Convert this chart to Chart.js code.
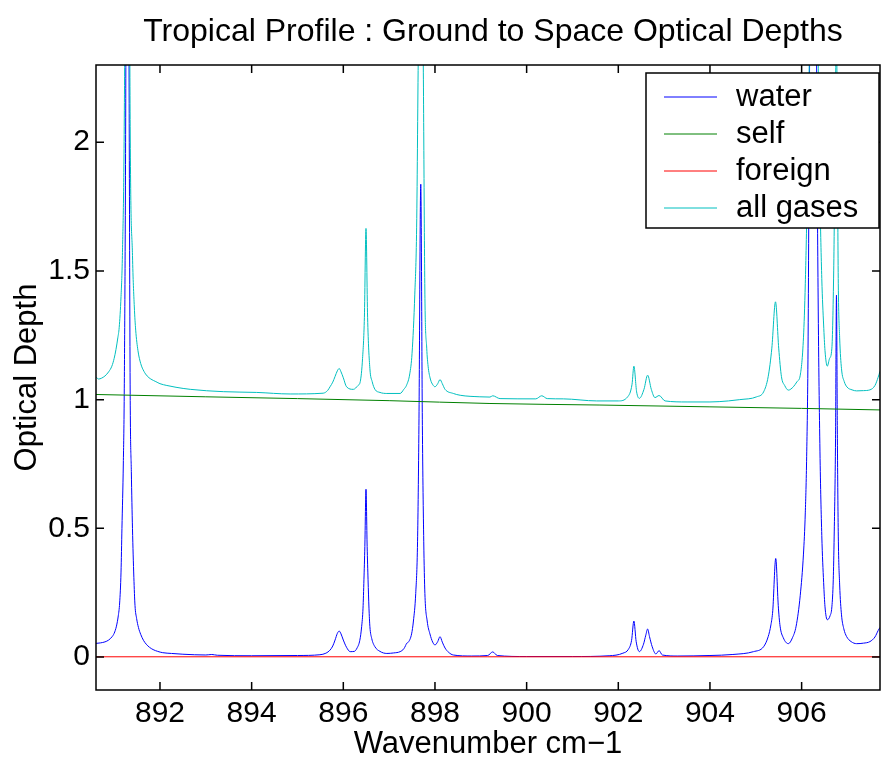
<!DOCTYPE html>
<html><head><meta charset="utf-8">
<script src="https://cdn.jsdelivr.net/npm/chart.js@4"></script>
<style>html,body{margin:0;padding:0;background:#fff;}canvas{display:block;}</style>
</head><body>
<canvas id="c" width="881" height="763"></canvas>
<script>
const chartTitle = 'Tropical Profile : Ground to Space Optical Depths';
const xAxisTitle = 'Wavenumber cm\u22121';
const yAxisTitle = 'Optical Depth';
const seriesNames = ['water', 'self', 'foreign', 'all gases'];
const xTickValues = [892, 894, 896, 898, 900, 902, 904, 906];
const yTickValues = [0, 0.5, 1, 1.5, 2];

const waterX = [890.60, 890.70, 890.80, 890.88, 890.95, 891.00, 891.05, 891.09, 891.12, 891.15, 891.17, 891.20, 891.22, 891.25, 891.29, 891.33, 891.35, 891.375, 891.40, 891.43, 891.455, 891.49, 891.53, 891.58, 891.64, 891.70, 891.77, 891.85, 891.95, 892.06, 892.25, 892.50, 893.00, 893.13, 893.25, 894.00, 895.00, 895.49, 895.62, 895.71, 895.77, 895.82, 895.87, 895.91, 895.95, 896.00, 896.07, 896.15, 896.24, 896.30, 896.36, 896.40, 896.43, 896.45, 896.47, 896.495, 896.52, 896.54, 896.56, 896.58, 896.62, 896.69, 896.80, 896.95, 897.10, 897.24, 897.32, 897.36, 897.38, 897.42, 897.49, 897.53, 897.58, 897.62, 897.65, 897.69, 897.725, 897.755, 897.78, 897.83, 897.89, 897.95, 898.00, 898.06, 898.11, 898.16, 898.22, 898.30, 898.40, 898.80, 899.15, 899.26, 899.36, 900.00, 901.00, 901.80, 902.10, 902.22, 902.29, 902.34, 902.39, 902.46, 902.55, 902.60, 902.64, 902.68, 902.74, 902.82, 902.89, 902.96, 903.30, 904.00, 904.50, 904.95, 905.17, 905.27, 905.33, 905.37, 905.435, 905.49, 905.53, 905.60, 905.71, 905.80, 905.88, 905.97, 906.04, 906.08, 906.11, 906.14, 906.17, 906.27, 906.33, 906.36, 906.40, 906.44, 906.48, 906.51, 906.56, 906.62, 906.66, 906.69, 906.71, 906.74, 906.76, 906.78, 906.80, 906.83, 906.87, 906.92, 906.98, 907.08, 907.20, 907.35, 907.49, 907.60, 907.67, 907.71];
const waterY = [0.053, 0.055, 0.059, 0.066, 0.078, 0.092, 0.120, 0.160, 0.210, 0.330, 0.500, 0.750, 1.020, 2.000, 4.500, 2.000, 1.020, 0.720, 0.500, 0.310, 0.200, 0.150, 0.115, 0.088, 0.065, 0.050, 0.038, 0.029, 0.022, 0.017, 0.014, 0.011, 0.008, 0.010, 0.007, 0.005, 0.006, 0.009, 0.015, 0.027, 0.043, 0.066, 0.092, 0.101, 0.090, 0.066, 0.038, 0.021, 0.022, 0.035, 0.065, 0.118, 0.190, 0.300, 0.430, 0.652, 0.430, 0.300, 0.190, 0.118, 0.072, 0.040, 0.022, 0.014, 0.016, 0.021, 0.032, 0.045, 0.053, 0.058, 0.090, 0.140, 0.247, 0.450, 0.900, 1.837, 0.900, 0.450, 0.247, 0.140, 0.090, 0.058, 0.047, 0.060, 0.079, 0.058, 0.035, 0.018, 0.008, 0.004, 0.006, 0.020, 0.006, 0.002, 0.002, 0.005, 0.015, 0.030, 0.065, 0.140, 0.060, 0.021, 0.050, 0.085, 0.109, 0.080, 0.040, 0.012, 0.025, 0.008, 0.004, 0.006, 0.010, 0.021, 0.040, 0.079, 0.125, 0.180, 0.383, 0.200, 0.120, 0.075, 0.052, 0.075, 0.120, 0.240, 0.400, 0.560, 0.780, 1.200, 2.200, 5.000, 2.200, 1.395, 0.800, 0.472, 0.290, 0.195, 0.145, 0.160, 0.195, 0.300, 0.470, 0.850, 1.406, 0.850, 0.470, 0.280, 0.164, 0.110, 0.080, 0.060, 0.052, 0.054, 0.060, 0.078, 0.103, 0.115];

const selfX = [890.60, 893.00, 895.00, 897.00, 899.20, 901.60, 904.00, 906.00, 907.71];
const selfY = [1.020, 1.011, 1.004, 0.996, 0.985, 0.979, 0.972, 0.966, 0.960];

const foreignX = [890.60, 907.71];
const foreignY = [0.001, 0.001];

const allX = [890.60, 890.66, 890.72, 890.80, 890.88, 890.95, 891.00, 891.04, 891.08, 891.11, 891.15, 891.18, 891.22, 891.26, 891.29, 891.32, 891.35, 891.40, 891.44, 891.47, 891.52, 891.58, 891.65, 891.72, 891.80, 891.91, 892.00, 892.15, 892.35, 892.66, 893.38, 894.11, 894.84, 895.56, 895.66, 895.71, 895.77, 895.82, 895.87, 895.91, 895.95, 896.00, 896.07, 896.22, 896.32, 896.37, 896.42, 896.46, 896.495, 896.53, 896.58, 896.63, 896.69, 896.80, 896.95, 897.24, 897.32, 897.38, 897.45, 897.50, 897.56, 897.60, 897.64, 897.69, 897.74, 897.78, 897.82, 897.85, 897.90, 897.96, 898.00, 898.06, 898.11, 898.16, 898.22, 898.40, 898.55, 898.98, 899.20, 899.26, 899.42, 900.20, 900.33, 900.45, 900.80, 901.53, 902.00, 902.20, 902.30, 902.34, 902.40, 902.46, 902.56, 902.64, 902.72, 902.80, 902.89, 903.02, 903.50, 904.00, 904.40, 904.65, 905.02, 905.17, 905.27, 905.35, 905.43, 905.50, 905.56, 905.63, 905.71, 905.82, 905.90, 905.97, 906.04, 906.08, 906.12, 906.20, 906.27, 906.36, 906.40, 906.44, 906.48, 906.51, 906.56, 906.61, 906.66, 906.70, 906.76, 906.80, 906.83, 906.87, 906.93, 906.99, 907.10, 907.20, 907.35, 907.49, 907.60, 907.67, 907.71];
const allY = [1.089, 1.080, 1.083, 1.092, 1.108, 1.130, 1.160, 1.195, 1.240, 1.280, 1.400, 1.560, 2.060, 3.500, 5.500, 3.500, 2.060, 1.560, 1.360, 1.270, 1.190, 1.140, 1.110, 1.092, 1.080, 1.070, 1.062, 1.055, 1.048, 1.040, 1.031, 1.028, 1.022, 1.025, 1.036, 1.050, 1.068, 1.090, 1.112, 1.121, 1.108, 1.085, 1.050, 1.040, 1.055, 1.070, 1.160, 1.320, 1.665, 1.320, 1.120, 1.070, 1.040, 1.028, 1.024, 1.024, 1.040, 1.056, 1.100, 1.180, 1.410, 1.670, 2.400, 2.850, 2.400, 1.410, 1.200, 1.130, 1.080, 1.056, 1.050, 1.062, 1.078, 1.062, 1.040, 1.024, 1.017, 1.011, 1.010, 1.015, 1.004, 1.003, 1.015, 1.004, 1.003, 0.995, 0.995, 1.010, 1.060, 1.130, 1.030, 1.005, 1.040, 1.095, 1.040, 1.008, 1.016, 0.995, 0.991, 0.991, 0.995, 1.000, 1.011, 1.030, 1.089, 1.200, 1.380, 1.200, 1.089, 1.055, 1.037, 1.050, 1.070, 1.095, 1.240, 1.450, 1.800, 3.000, 6.000, 2.380, 1.800, 1.470, 1.290, 1.190, 1.130, 1.160, 1.200, 1.500, 2.400, 1.450, 1.240, 1.120, 1.070, 1.049, 1.038, 1.034, 1.035, 1.038, 1.055, 1.087, 1.110];

const X_MIN = 890.604, X_MAX = 907.71, Y_MIN = -0.128, Y_MAX = 2.30;
const FONT = "'Liberation Sans', Arial, Helvetica, sans-serif";
const pts = (xs, ys) => xs.map((x, i) => ({x: x, y: ys[i]}));

const matlabFrame = {
  id: 'matlabFrame',
  afterDraw(chart) {
    const ctx = chart.ctx, a = chart.chartArea;
    const xs = chart.scales.x, ys = chart.scales.y;
    ctx.save();
    // title centred over the axes
    ctx.fillStyle = '#000';
    ctx.font = '32px ' + FONT;
    ctx.textAlign = 'center';
    ctx.textBaseline = 'middle';
    ctx.fillText(chartTitle, (a.left + a.right) / 2 + 5, 32);

    ctx.strokeStyle = '#000';
    ctx.lineWidth = 1.5;
    ctx.beginPath();
    ctx.rect(a.left, a.top, a.right - a.left, a.bottom - a.top);
    ctx.stroke();
    const tl = 8;
    ctx.beginPath();
    xTickValues.forEach(v => {
      const px = xs.getPixelForValue(v);
      ctx.moveTo(px, a.bottom); ctx.lineTo(px, a.bottom - tl);
      ctx.moveTo(px, a.top); ctx.lineTo(px, a.top + tl);
    });
    yTickValues.forEach(v => {
      const py = ys.getPixelForValue(v);
      ctx.moveTo(a.left, py); ctx.lineTo(a.left + tl, py);
      ctx.moveTo(a.right, py); ctx.lineTo(a.right - tl, py);
    });
    ctx.stroke();

    // legend box (top right, inside axes)
    const bw = 233, bh = 155;
    const bx = a.right - 1 - bw, by = a.top + 8;
    ctx.fillStyle = '#fff';
    ctx.fillRect(bx, by, bw, bh);
    ctx.lineWidth = 1.5;
    ctx.strokeStyle = '#000';
    ctx.strokeRect(bx, by, bw, bh);
    ctx.font = '31px ' + FONT;
    ctx.textBaseline = 'middle';
    ctx.textAlign = 'left';
    chart.data.datasets.forEach((ds, i) => {
      const yy = by + 24 + i * 37;
      ctx.strokeStyle = ds.borderColor;
      ctx.lineWidth = 1;
      ctx.beginPath();
      ctx.moveTo(bx + 18, yy); ctx.lineTo(bx + 71, yy);
      ctx.stroke();
      ctx.fillStyle = '#000';
      ctx.fillText(ds.label, bx + 90, yy);
    });
    ctx.restore();
  }
};

const lineDs = (label, color, data, order) => ({
  label: label, data: data, borderColor: color, backgroundColor: color,
  borderWidth: 1, pointRadius: 0, fill: false, cubicInterpolationMode: 'monotone', order: order
});

new Chart(document.getElementById('c'), {
  type: 'line',
  data: {
    datasets: [
      lineDs(seriesNames[0], '#0000ff', pts(waterX, waterY), 4),
      lineDs(seriesNames[1], '#008000', pts(selfX, selfY), 3),
      lineDs(seriesNames[2], '#ff0000', pts(foreignX, foreignY), 2),
      lineDs(seriesNames[3], '#00bfbf', pts(allX, allY), 1)
    ]
  },
  options: {
    responsive: false, animation: false, devicePixelRatio: 1,
    layout: {padding: {left: 0, right: 1, top: 65, bottom: 0}},
    plugins: {
      legend: {display: false},
      tooltip: {enabled: false},
      title: {display: false}
    },
    scales: {
      x: {
        type: 'linear', min: X_MIN, max: X_MAX,
        afterBuildTicks: s => { s.ticks = xTickValues.map(v => ({value: v})); },
        afterFit: s => { s.height = 73; },
        grid: {display: false, drawTicks: false}, border: {display: false},
        ticks: {color: '#000', font: {family: FONT, size: 30}, padding: 6, maxRotation: 0, autoSkip: false,
          callback: v => String(v)},
        title: {display: true, text: xAxisTitle, color: '#000', font: {family: FONT, size: 31}, padding: {top: 0, bottom: 0}}
      },
      y: {
        type: 'linear', min: Y_MIN, max: Y_MAX,
        afterBuildTicks: s => { s.ticks = yTickValues.map(v => ({value: v})); },
        afterFit: s => { s.width = 96; },
        grid: {display: false, drawTicks: false}, border: {display: false},
        ticks: {color: '#000', font: {family: FONT, size: 30}, padding: 6, autoSkip: false,
          callback: v => String(v)},
        title: {display: true, text: yAxisTitle, color: '#000', font: {family: FONT, size: 31}, padding: {top: 9, bottom: 0}}
      }
    }
  },
  plugins: [matlabFrame]
});
</script>
</body></html>
